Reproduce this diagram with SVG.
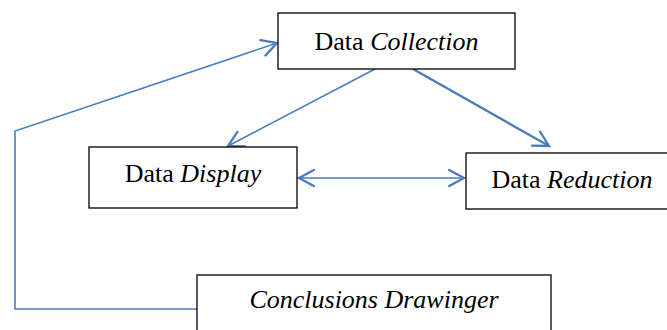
<svg xmlns="http://www.w3.org/2000/svg" width="667" height="330" viewBox="0 0 667 330">
<style>
.box{fill:#fff;stroke:#000;stroke-width:1.3}
.t{font-family:'Liberation Serif','Times New Roman',serif;font-size:26px;fill:#000}
.i{font-style:italic}
.c{fill:none;stroke:#4A7EBB;stroke-width:1.6}
</style>
<defs>
<marker id="ah" markerUnits="userSpaceOnUse" markerWidth="20" markerHeight="20" refX="12" refY="7" orient="auto-start-reverse" viewBox="0 0 14 14">
<path d="M1,1 L12,7 L1,13" fill="none" stroke="#4A7EBB" stroke-width="1.6"/>
</marker>
</defs>
<g id="connectors">
<path class="c" d="M375,69 L228,146" marker-end="url(#ah)"/>
<path class="c" d="M413,69 L549,146" style="stroke-width:2.4" marker-end="url(#ah)"/>
<path class="c" d="M299,178 L464,178" marker-start="url(#ah)" marker-end="url(#ah)"/>
<path class="c" d="M197,309 L15,309 L15,131 L277,43" marker-end="url(#ah)"/>
</g>
<g id="collection">
<rect class="box" x="278" y="13" width="237" height="56"/>
<text class="t" x="396.5" y="50" text-anchor="middle">Data <tspan class="i">Collection</tspan></text>
</g>
<g id="display">
<rect class="box" x="89" y="147" width="208" height="61"/>
<text class="t" x="193" y="182" text-anchor="middle">Data <tspan class="i">Display</tspan></text>
</g>
<g id="reduction">
<rect class="box" x="466" y="153" width="205" height="56"/>
<text class="t" x="572" y="188" text-anchor="middle">Data <tspan class="i">Reduction</tspan></text>
</g>
<g id="conclusions">
<rect class="box" x="197" y="275" width="354" height="60"/>
<text class="t i" x="374" y="308" text-anchor="middle">Conclusions Drawinger</text>
</g>
</svg>
